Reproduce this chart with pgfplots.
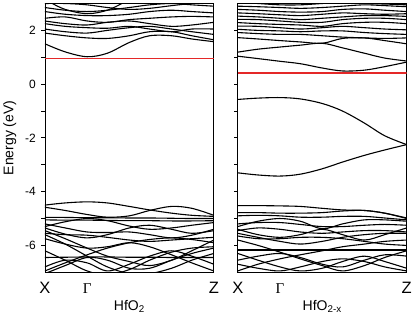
\documentclass[border=0pt]{standalone}
\usepackage{fontspec}
\setmainfont{Liberation Sans}
\newfontfamily\serifg{Liberation Serif}
\usepackage{pgfplots}
\pgfplotsset{compat=1.18}
\definecolor{fermi}{RGB}{228,40,40}
\begin{document}
\begin{tikzpicture}
\pgfplotsset{
  bandax/.style={
    scale only axis, width=169pt, height=269pt,
    xmin=0, xmax=1, ymin=-7, ymax=3,
    clip bounding box=upper bound,
    xtick={0,0.25,1}, xticklabels={X,{\serifg\fontsize{15}{16}\selectfont Γ},Z},
    x tick label style={font=\fontsize{16.5}{18}\selectfont, anchor=base, yshift=-18pt},
    major x tick style={draw=none},
    ytick={-6,-4,-2,0,2}, minor ytick={-5,-3,-1,1},
    ytick pos=left, tick align=outside,
    major tick length=3.5pt, minor tick length=3.5pt,
    axis line style={line width=0.8pt},
    every tick/.style={black, line width=0.8pt},
    y tick label style={font=\fontsize{12}{14}\selectfont, xshift=-2pt},
    xlabel style={font=\fontsize{14}{16}\selectfont, at={(axis description cs:0.5,0)}, anchor=base, yshift=-38pt},
  },
  band/.style={black, line width=1.1pt, smooth, tension=0.55},
}
% ---------------- HfO2 ----------------
\begin{axis}[bandax, name=left,
  yticklabels={-6,-4,-2,0,2},
  ylabel={Energy (eV)}, ylabel style={font=\fontsize{14}{16}\selectfont, yshift=2pt},
  xlabel={HfO\textsubscript{2}}]
% conduction bands
\addplot[band] coordinates {(0,1.50)(0.12,1.20)(0.25,1.02)(0.37,1.15)(0.5,1.55)(0.62,1.80)(0.75,1.80)(0.87,1.68)(1,1.58)};
\addplot[band] coordinates {(0,1.90)(0.12,1.80)(0.25,1.72)(0.37,1.70)(0.5,1.80)(0.62,1.95)(0.75,1.95)(0.87,1.80)(1,1.65)};
\addplot[band] coordinates {(0,2.05)(0.12,1.95)(0.25,1.90)(0.37,2.00)(0.5,2.10)(0.62,2.15)(0.75,2.05)(0.87,1.95)(1,1.85)};
\addplot[band] coordinates {(0,2.25)(0.12,2.15)(0.25,2.10)(0.37,2.08)(0.5,2.15)(0.62,2.05)(0.75,1.95)(0.87,2.05)(1,2.05)};
\addplot[band] coordinates {(0,2.35)(0.12,2.25)(0.25,2.20)(0.37,2.30)(0.5,2.35)(0.62,2.25)(0.75,2.15)(0.87,2.20)(1,2.30)};
\addplot[band] coordinates {(0,2.45)(0.12,2.50)(0.25,2.35)(0.37,2.30)(0.5,2.40)(0.62,2.45)(0.75,2.50)(0.87,2.52)(1,2.50)};
\addplot[band] coordinates {(0,2.70)(0.12,2.60)(0.25,2.55)(0.37,2.55)(0.5,2.60)(0.62,2.70)(0.75,2.75)(0.87,2.70)(1,2.65)};
\addplot[band] coordinates {(0,2.85)(0.12,2.75)(0.25,2.70)(0.37,2.75)(0.5,2.85)(0.62,2.95)(0.75,3.00)(0.87,2.95)(1,2.90)};
\addplot[band] coordinates {(0.03,3.05)(0.12,2.78)(0.25,2.62)(0.37,2.75)(0.47,3.05)};
\addplot[band] coordinates {(0,3.00)(0.12,3.00)(0.25,2.95)(0.37,2.85)(0.5,2.78)(0.62,2.82)(0.75,2.92)(0.87,3.00)(1,3.05)};
% valence bands
\addplot[band] coordinates {(0,-4.50)(0.12,-4.42)(0.25,-4.38)(0.37,-4.42)(0.5,-4.55)(0.62,-4.68)(0.75,-4.80)(0.87,-4.88)(1,-4.92)};
\addplot[band] coordinates {(0,-4.58)(0.12,-4.70)(0.25,-4.85)(0.37,-4.95)(0.5,-4.90)(0.62,-4.70)(0.75,-4.55)(0.87,-4.62)(1,-4.88)};
\addplot[band] coordinates {(0,-4.96)(0.12,-4.96)(0.25,-4.97)(0.37,-4.97)(0.5,-4.98)(0.62,-4.98)(0.75,-4.99)(0.87,-5.00)(1,-5.00)};
\addplot[band] coordinates {(0,-5.05)(0.12,-5.06)(0.25,-5.06)(0.37,-5.07)(0.5,-5.08)(0.62,-5.08)(0.75,-5.09)(0.87,-5.09)(1,-5.08)};
\addplot[band] coordinates {(0,-5.30)(0.12,-5.12)(0.25,-5.00)(0.37,-5.08)(0.5,-5.28)(0.62,-5.40)(0.75,-5.35)(0.87,-5.25)(1,-5.15)};
\addplot[band] coordinates {(0,-5.35)(0.12,-5.58)(0.25,-5.72)(0.37,-5.60)(0.5,-5.35)(0.62,-5.25)(0.75,-5.40)(0.87,-5.55)(1,-5.45)};
\addplot[band] coordinates {(0,-5.20)(0.12,-5.35)(0.25,-5.50)(0.37,-5.52)(0.5,-5.50)(0.62,-5.60)(0.75,-5.72)(0.87,-5.62)(1,-5.40)};
\addplot[band] coordinates {(0,-5.45)(0.12,-5.75)(0.25,-6.10)(0.37,-6.40)(0.5,-6.60)(0.62,-6.75)(0.75,-6.55)(0.87,-6.20)(1,-5.80)};
\addplot[band] coordinates {(0,-5.60)(0.12,-5.95)(0.25,-6.40)(0.37,-6.80)(0.5,-7.05)(0.62,-7.05)(0.75,-6.85)(0.87,-6.55)(1,-6.30)};
\addplot[band] coordinates {(0,-6.95)(0.12,-6.65)(0.25,-6.35)(0.37,-6.10)(0.5,-5.90)(0.62,-5.78)(0.75,-5.72)(0.87,-5.78)(1,-5.90)};
\addplot[band] coordinates {(0,-6.45)(0.12,-6.44)(0.25,-6.43)(0.37,-6.43)(0.5,-6.44)(0.62,-6.44)(0.75,-6.45)(0.87,-6.45)(1,-6.45)};
\addplot[band] coordinates {(0,-5.75)(0.12,-5.95)(0.25,-6.10)(0.37,-6.05)(0.5,-5.90)(0.62,-6.05)(0.75,-6.35)(0.87,-6.65)(1,-6.95)};
\addplot[band] coordinates {(0,-7.05)(0.12,-6.75)(0.25,-6.45)(0.37,-6.55)(0.5,-6.85)(0.62,-6.85)(0.75,-6.55)(0.87,-6.30)(1,-6.10)};
\addplot[band] coordinates {(0,-6.20)(0.12,-6.55)(0.25,-6.95)(0.37,-7.10)(0.5,-6.90)(0.62,-6.55)(0.75,-6.25)(0.87,-6.10)(1,-6.05)};
\addplot[band] coordinates {(0,-6.80)(0.12,-6.55)(0.25,-6.65)(0.37,-6.95)(0.5,-6.70)(0.62,-6.40)(0.75,-6.20)(0.87,-6.40)(1,-6.70)};
\addplot[band] coordinates {(0,-5.55)(0.12,-5.60)(0.25,-5.62)(0.37,-5.70)(0.5,-5.80)(0.62,-5.85)(0.75,-5.80)(0.87,-5.75)(1,-5.70)};
% Fermi level
\addplot[color=fermi, line width=1.6pt] coordinates {(0,0.96)(1,0.96)};
\end{axis}
% ---------------- HfO2-x ----------------
\begin{axis}[bandax, at={(193pt,0)},
  yticklabels={},
  xlabel={HfO\textsubscript{2-x}}]
% conduction bands
\addplot[band] coordinates {(0,1.04)(0.12,0.95)(0.25,0.85)(0.37,0.76)(0.5,0.60)(0.62,0.49)(0.75,0.52)(0.87,0.65)(1,0.82)};
\addplot[band] coordinates {(0,1.19)(0.12,1.30)(0.25,1.38)(0.37,1.45)(0.5,1.52)(0.62,1.35)(0.75,1.15)(0.87,0.97)(1,0.86)};
\addplot[band] coordinates {(0,1.73)(0.12,1.68)(0.25,1.62)(0.37,1.57)(0.5,1.52)(0.62,1.70)(0.75,1.72)(0.87,1.62)(1,1.50)};
\addplot[band] coordinates {(0,1.92)(0.12,1.88)(0.25,1.85)(0.37,1.85)(0.5,1.80)(0.62,1.75)(0.75,1.72)(0.87,1.70)(1,1.72)};
\addplot[band] coordinates {(0,2.04)(0.12,2.00)(0.25,1.98)(0.37,1.95)(0.5,1.98)(0.62,1.98)(0.75,1.92)(0.87,1.88)(1,1.85)};
\addplot[band] coordinates {(0,2.16)(0.12,2.15)(0.25,2.10)(0.37,2.05)(0.5,2.10)(0.62,2.15)(0.75,2.10)(0.87,2.05)(1,2.02)};
\addplot[band] coordinates {(0,2.29)(0.12,2.25)(0.25,2.22)(0.37,2.20)(0.5,2.15)(0.62,2.25)(0.75,2.30)(0.87,2.30)(1,2.25)};
\addplot[band] coordinates {(0,2.41)(0.12,2.40)(0.25,2.35)(0.37,2.30)(0.5,2.30)(0.62,2.40)(0.75,2.45)(0.87,2.45)(1,2.40)};
\addplot[band] coordinates {(0,2.53)(0.12,2.50)(0.25,2.45)(0.37,2.40)(0.5,2.45)(0.62,2.50)(0.75,2.55)(0.87,2.55)(1,2.52)};
\addplot[band] coordinates {(0,2.65)(0.12,2.62)(0.25,2.58)(0.37,2.55)(0.5,2.60)(0.62,2.65)(0.75,2.62)(0.87,2.60)(1,2.62)};
\addplot[band] coordinates {(0,2.78)(0.12,2.75)(0.25,2.70)(0.37,2.68)(0.5,2.70)(0.62,2.78)(0.75,2.80)(0.87,2.75)(1,2.70)};
\addplot[band] coordinates {(0,2.90)(0.12,2.88)(0.25,2.85)(0.37,2.82)(0.5,2.85)(0.62,2.90)(0.75,2.95)(0.87,2.92)(1,2.88)};
\addplot[band] coordinates {(0,3.05)(0.12,3.00)(0.25,2.95)(0.37,2.95)(0.5,3.00)(0.62,3.05)(0.75,3.00)(0.87,2.98)(1,2.95)};
% defect states in the gap
\addplot[band] coordinates {(0,-0.57)(0.12,-0.52)(0.25,-0.50)(0.37,-0.55)(0.5,-0.72)(0.62,-1.00)(0.75,-1.45)(0.87,-1.92)(1,-2.25)};
\addplot[band] coordinates {(0,-3.30)(0.12,-3.38)(0.25,-3.42)(0.37,-3.35)(0.5,-3.15)(0.62,-2.90)(0.75,-2.65)(0.87,-2.45)(1,-2.25)};
% valence bands
\addplot[band] coordinates {(0,-4.52)(0.12,-4.52)(0.25,-4.53)(0.37,-4.55)(0.5,-4.62)(0.62,-4.68)(0.75,-4.70)(0.87,-4.80)(1,-5.00)};
\addplot[band] coordinates {(0,-4.78)(0.12,-4.78)(0.25,-4.80)(0.37,-4.80)(0.5,-4.78)(0.62,-4.72)(0.75,-4.70)(0.87,-4.80)(1,-4.98)};
\addplot[band] coordinates {(0,-4.90)(0.12,-4.88)(0.25,-4.90)(0.37,-4.95)(0.5,-4.95)(0.62,-4.92)(0.75,-4.92)(0.87,-4.98)(1,-5.05)};
\addplot[band] coordinates {(0,-5.30)(0.12,-5.10)(0.25,-5.00)(0.37,-5.10)(0.5,-5.38)(0.62,-5.20)(0.75,-5.05)(0.87,-5.05)(1,-5.10)};
\addplot[band] coordinates {(0,-5.40)(0.12,-5.60)(0.25,-5.70)(0.37,-5.60)(0.5,-5.40)(0.62,-5.60)(0.75,-5.80)(0.87,-5.60)(1,-5.35)};
\addplot[band] coordinates {(0,-5.20)(0.12,-5.15)(0.25,-5.15)(0.37,-5.22)(0.5,-5.30)(0.62,-5.30)(0.75,-5.25)(0.87,-5.22)(1,-5.25)};
\addplot[band] coordinates {(0,-5.45)(0.12,-5.35)(0.25,-5.40)(0.37,-5.50)(0.5,-5.55)(0.62,-5.50)(0.75,-5.45)(0.87,-5.45)(1,-5.50)};
\addplot[band] coordinates {(0,-5.55)(0.12,-5.70)(0.25,-5.85)(0.37,-5.95)(0.5,-5.85)(0.62,-5.70)(0.75,-5.60)(0.87,-5.55)(1,-5.55)};
\addplot[band] coordinates {(0,-6.17)(0.12,-6.17)(0.25,-6.17)(0.37,-6.17)(0.5,-6.17)(0.62,-6.17)(0.75,-6.17)(0.87,-6.17)(1,-6.17)};
\addplot[band] coordinates {(0,-5.80)(0.12,-6.00)(0.25,-6.25)(0.37,-6.50)(0.5,-6.75)(0.62,-6.95)(0.75,-6.75)(0.87,-6.45)(1,-6.20)};
\addplot[band] coordinates {(0,-6.55)(0.12,-6.40)(0.25,-6.30)(0.37,-6.45)(0.5,-6.70)(0.62,-6.80)(0.75,-6.55)(0.87,-6.35)(1,-6.40)};
\addplot[band] coordinates {(0,-6.95)(0.12,-6.70)(0.25,-6.50)(0.37,-6.35)(0.5,-6.20)(0.62,-6.05)(0.75,-5.95)(0.87,-5.85)(1,-5.80)};
\addplot[band] coordinates {(0,-6.30)(0.12,-6.55)(0.25,-6.80)(0.37,-6.95)(0.5,-6.85)(0.62,-6.60)(0.75,-6.40)(0.87,-6.60)(1,-6.85)};
\addplot[band] coordinates {(0,-6.70)(0.12,-6.85)(0.25,-6.95)(0.37,-6.80)(0.5,-6.60)(0.62,-6.50)(0.75,-6.60)(0.87,-6.80)(1,-6.95)};
\addplot[band] coordinates {(0,-5.65)(0.12,-5.75)(0.25,-5.75)(0.37,-5.70)(0.5,-5.70)(0.62,-5.75)(0.75,-5.85)(0.87,-5.95)(1,-6.00)};
% Fermi level
\addplot[color=fermi, line width=1.6pt] coordinates {(0,0.41)(1,0.41)};
\end{axis}
\end{tikzpicture}
\end{document}
